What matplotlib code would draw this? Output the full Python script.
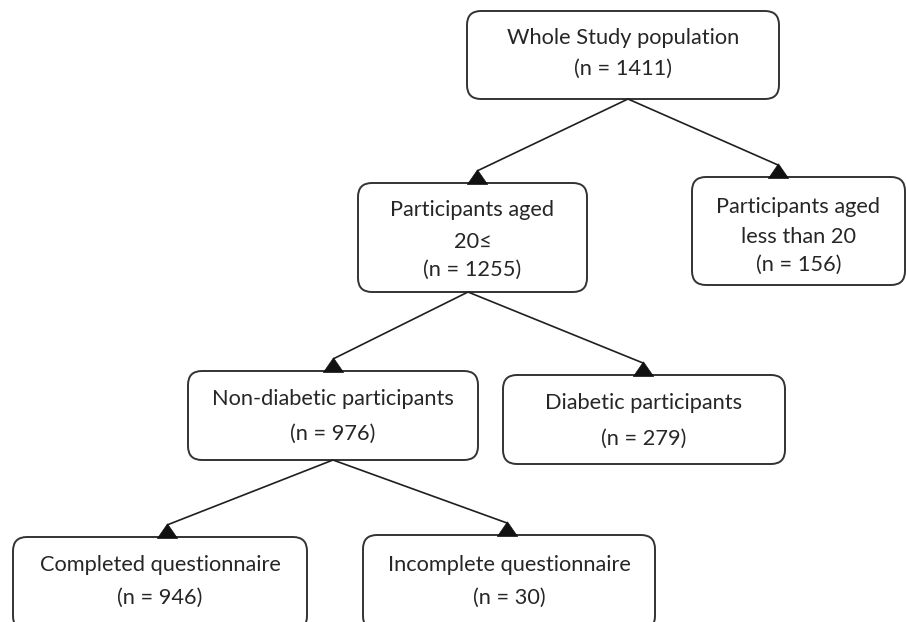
import matplotlib
matplotlib.use("Agg")
import matplotlib.pyplot as plt
from matplotlib.patches import FancyBboxPatch
from matplotlib.path import Path

# ---- data ----
node_labels = [
    "Whole Study population",
    "Participants aged\n20≤",
    "Participants aged\nless than 20",
    "Non-diabetic participants",
    "Diabetic participants",
    "Completed questionnaire",
    "Incomplete questionnaire",
]
node_counts = [1411, 1255, 156, 976, 279, 946, 30]
edges = [(0, 1), (0, 2), (1, 3), (1, 4), (3, 5), (3, 6)]

# ---- layout (pixel coordinates, y downward) ----
boxes = [  # x0, x1, y0, y1
    (467, 779, 11, 99),
    (358, 587, 183, 292),
    (692, 905, 177, 285),
    (188, 478, 371, 460),
    (503, 785, 375, 464),
    (13, 307, 537, 630),
    (363, 655, 535, 630),
]
text_y = [
    [38, 69],
    [210, 242, 270],
    [207, 237, 265],
    [399, 434],
    [403, 439],
    [565, 598],
    [565, 598],
]
starts = {0: 628, 1: 468, 3: 333}
tips = {1: 477, 2: 778, 3: 333, 4: 643, 5: 167, 6: 507}

W, H = 906, 622
fig = plt.figure(figsize=(W / 100, H / 100), dpi=100)
ax = fig.add_axes([0, 0, 1, 1])
ax.set_xlim(0, W)
ax.set_ylim(H, 0)
ax.axis("off")

edge_col = "#333333"
txt_col = "#262626"
font = ["Lato", "DejaVu Sans"]

for i, (x0, x1, y0, y1) in enumerate(boxes):
    p = FancyBboxPatch((x0, y0), x1 - x0, y1 - y0,
                       boxstyle="round,pad=0,rounding_size=14",
                       fc="white", ec=edge_col, lw=1.4, zorder=2)
    ax.add_patch(p)
    lines = node_labels[i].split("\n") + [f"(n = {node_counts[i]})"]
    cx = (x0 + x1) / 2
    for ln, yy in zip(lines, text_y[i]):
        ax.text(cx, yy, ln, ha="center", va="center", fontsize=15.7,
                color=txt_col, family=font, zorder=3)

# upright triangle arrowhead, base centred at marker position
head = Path([(-9, 0), (9, 0), (0, 13), (-9, 0)],
            [Path.MOVETO, Path.LINETO, Path.LINETO, Path.CLOSEPOLY])
head_h = 13  # px
for a, b in edges:
    sx, sy = starts[a], boxes[a][3]
    tx, ty = tips[b], boxes[b][2]
    ax.plot([sx, tx], [sy, ty - head_h + 1], color="#1f1f1f", lw=1.2,
            solid_capstyle="butt", zorder=4)
    ax.plot([tx], [ty + 0.5], marker=head, ms=21, color="#111111",
            mec="#111111", mew=0.5, zorder=5)

fig.savefig("out.png", dpi=100, facecolor="white")
